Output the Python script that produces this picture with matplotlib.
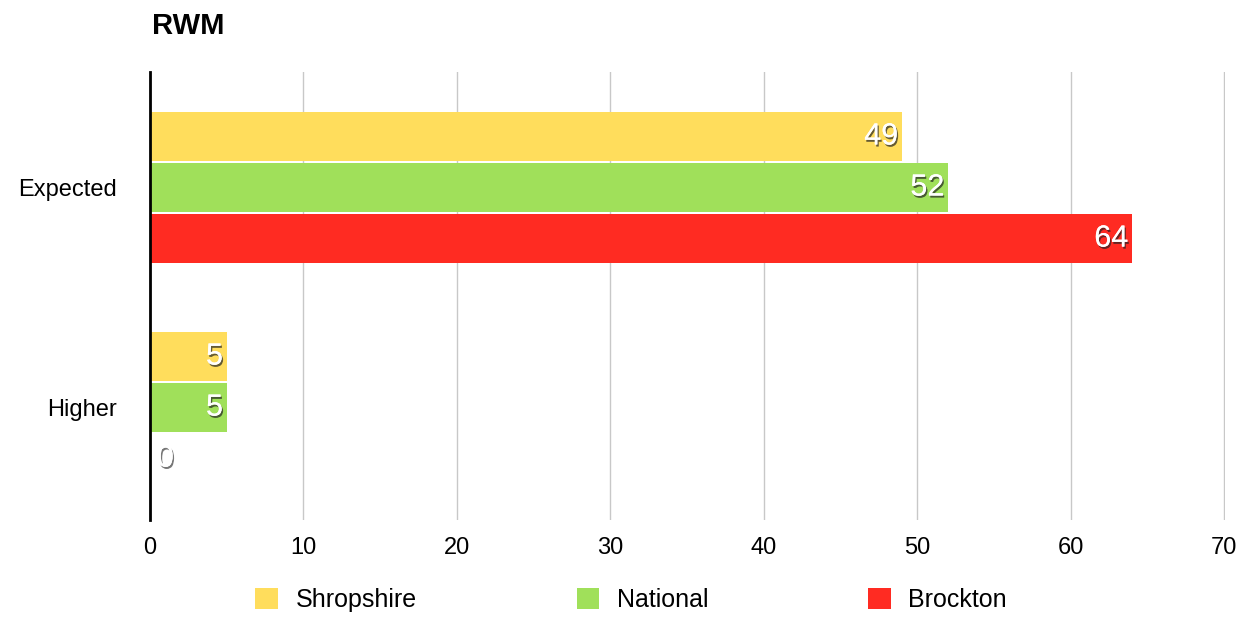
import matplotlib
matplotlib.use('Agg')
import matplotlib.pyplot as plt
import matplotlib.patheffects as pe
from matplotlib.patches import Patch
import numpy as np

plt.rcParams['font.family'] = ['Liberation Sans', 'DejaVu Sans']

categories = ['Expected', 'Higher']
series = ['Shropshire', 'National', 'Brockton']
shropshire = [49, 5]
national = [52, 5]
brockton = [64, 0]
colors = ['#FFDD5C', '#A0E05A', '#FF2B22']

fig = plt.figure(figsize=(12.52, 6.17), dpi=100)
ax = fig.add_axes([0.1198, 0.1572, 0.8586, 0.7261])

y = np.arange(len(categories))
offsets = [-0.232, 0.0, 0.232]
shadow = [pe.withSimplePatchShadow(offset=(1, -1.5), shadow_rgbFace='#222222', alpha=0.7), pe.Normal()]

for vals, off, col, name in zip([shropshire, national, brockton], offsets, colors, series):
    bars = ax.barh(y + off, vals, height=0.225, color=col, label=name, zorder=3)
    for b, v in zip(bars, vals):
        cy = b.get_y() + b.get_height() / 2
        if v > 0:
            ax.text(v - 0.25, cy, str(v), ha='right', va='center', color='white',
                    fontsize=22, zorder=4, path_effects=shadow)
        else:
            ax.text(0.45, cy, str(v), ha='left', va='center', color='white',
                    fontsize=22, zorder=4,
                    path_effects=[pe.withSimplePatchShadow(offset=(1, -1.5), shadow_rgbFace='#555555', alpha=0.8), pe.Normal()])

ax.set_xlim(0, 70.05)
ax.set_ylim(1.511, -0.525)
ax.set_xticks(range(0, 71, 10))
ax.set_yticks(y)
ax.set_yticklabels(categories)
ax.tick_params(axis='both', length=0, labelsize=17)
ax.tick_params(axis='y', pad=24)
ax.tick_params(axis='x', pad=12)
ax.xaxis.grid(True, color='#c8c8c8', linewidth=1, zorder=0)
ax.set_axisbelow(True)
for s in ['top', 'right', 'bottom']:
    ax.spines[s].set_visible(False)
ax.spines['left'].set_linewidth(2)
ax.spines['left'].set_color('black')
ax.spines['left'].set_zorder(5)

fig.text(152 / 1252, 1 - 26 / 617, 'RWM', fontsize=21, fontweight='bold', va='center', ha='left')

handles = [Patch(facecolor=c, edgecolor='none') for c in colors]
fig.legend(handles, series, loc='center', bbox_to_anchor=(0.504, 1 - 600 / 617), ncol=3,
           frameon=False, fontsize=18, handlelength=0.9, handleheight=0.9,
           handletextpad=0.7, columnspacing=6.4)

fig.savefig('out.png', dpi=100)
